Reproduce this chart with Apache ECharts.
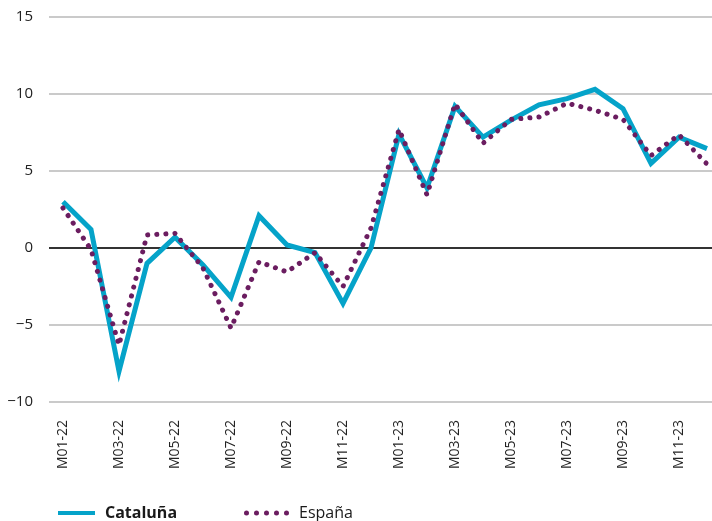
<!DOCTYPE html>
<html>
<head>
<meta charset="utf-8">
<script src="https://cdn.jsdelivr.net/npm/echarts@6/dist/echarts.min.js"></script>
<style>
html,body{margin:0;padding:0;background:#fff;}
#chart{width:712px;height:521px;}
</style>
</head>
<body>
<div id="chart"></div>
<script>
const categories = ['M01-22','M02-22','M03-22','M04-22','M05-22','M06-22','M07-22','M08-22','M09-22','M10-22','M11-22','M12-22',
                    'M01-23','M02-23','M03-23','M04-23','M05-23','M06-23','M07-23','M08-23','M09-23','M10-23','M11-23','M12-23'];
const cataluna = [3.0, 1.2, -8.0, -1.0, 0.7, -1.1, -3.2, 2.1, 0.2, -0.3, -3.6, 0.0,
                  7.4, 3.9, 9.2, 7.2, 8.3, 9.3, 9.7, 10.3, 9.05, 5.5, 7.2, 6.45];
const espana = [2.6, -0.1, -6.3, 0.85, 0.95, -1.3, -5.2, -0.9, -1.55, -0.3, -2.5, 1.3,
                7.7, 3.45, 9.35, 6.8, 8.35, 8.5, 9.4, 8.95, 8.35, 6.0, 7.35, 5.45];
const yTicks = { min: -10, max: 15, interval: 5 };
const seriesNames = ['Cataluña', 'España'];

const BLUE = '#05a3c9';
const PURPLE = '#6b1d60';
const FONT = 'Open Sans';

const dotsIcon = 'path://M0,2.5a2.5,2.5 0 1,0 5,0a2.5,2.5 0 1,0 -5,0Z' +
  'M10,2.5a2.5,2.5 0 1,0 5,0a2.5,2.5 0 1,0 -5,0Z' +
  'M20,2.5a2.5,2.5 0 1,0 5,0a2.5,2.5 0 1,0 -5,0Z' +
  'M30,2.5a2.5,2.5 0 1,0 5,0a2.5,2.5 0 1,0 -5,0Z' +
  'M40,2.5a2.5,2.5 0 1,0 5,0a2.5,2.5 0 1,0 -5,0Z';

const chart = echarts.init(document.getElementById('chart'), null, { renderer: 'canvas' });
chart.setOption({
  animation: false,
  backgroundColor: '#ffffff',
  textStyle: { fontFamily: FONT },
  grid: { left: 49, width: 672, top: 17, bottom: 119, containLabel: false, outerBoundsMode: 'none' },
  legend: [
    {
      left: 53, top: 500,
      data: [{ name: seriesNames[0], icon: 'rect' }],
      itemWidth: 37, itemHeight: 4,
      textStyle: { fontFamily: FONT, fontSize: 16, fontWeight: 'bold', color: '#1a1a1a', padding: [0, 0, 0, 5] },
      selectedMode: false
    },
    {
      left: 239, top: 500,
      data: [{ name: seriesNames[1], icon: dotsIcon }],
      itemWidth: 45, itemHeight: 5,
      textStyle: { fontFamily: FONT, fontSize: 16, color: '#1a1a1a', padding: [0, 0, 0, 5] },
      selectedMode: false
    }
  ],
  xAxis: {
    type: 'category',
    data: categories,
    boundaryGap: true,
    axisLine: { show: false },
    axisTick: { show: false },
    axisLabel: {
      interval: 1,
      rotate: 90,
      margin: 18,
      fontFamily: FONT,
      fontSize: 14,
      color: '#222'
    },
    splitLine: { show: false }
  },
  yAxis: {
    type: 'value',
    min: yTicks.min, max: yTicks.max, interval: yTicks.interval,
    axisLine: { show: false },
    axisTick: { show: false },
    axisLabel: {
      margin: 16,
      fontFamily: FONT,
      fontSize: 15,
      color: '#222',
      formatter: v => String(v).replace('-', '\u2212')
    },
    splitLine: { lineStyle: { color: '#b8b8b8', width: 1.5 } }
  },
  series: [
    {
      name: seriesNames[0],
      type: 'line',
      data: cataluna,
      showSymbol: false,
      symbol: 'none',
      color: BLUE,
      lineStyle: { color: BLUE, width: 5, join: 'miter' },
      markLine: {
        silent: true,
        symbol: ['none', 'none'],
        label: { show: false },
        lineStyle: { color: '#000', width: 1.5, type: 'solid' },
        data: [{ yAxis: 0 }],
        z: 1
      },
      z: 3
    },
    {
      name: seriesNames[1],
      type: 'line',
      data: espana,
      showSymbol: false,
      symbol: 'none',
      color: PURPLE,
      lineStyle: { color: PURPLE, width: 5, type: [0.1, 9], cap: 'round' },
      z: 4
    }
  ]
});
</script>
</body>
</html>
